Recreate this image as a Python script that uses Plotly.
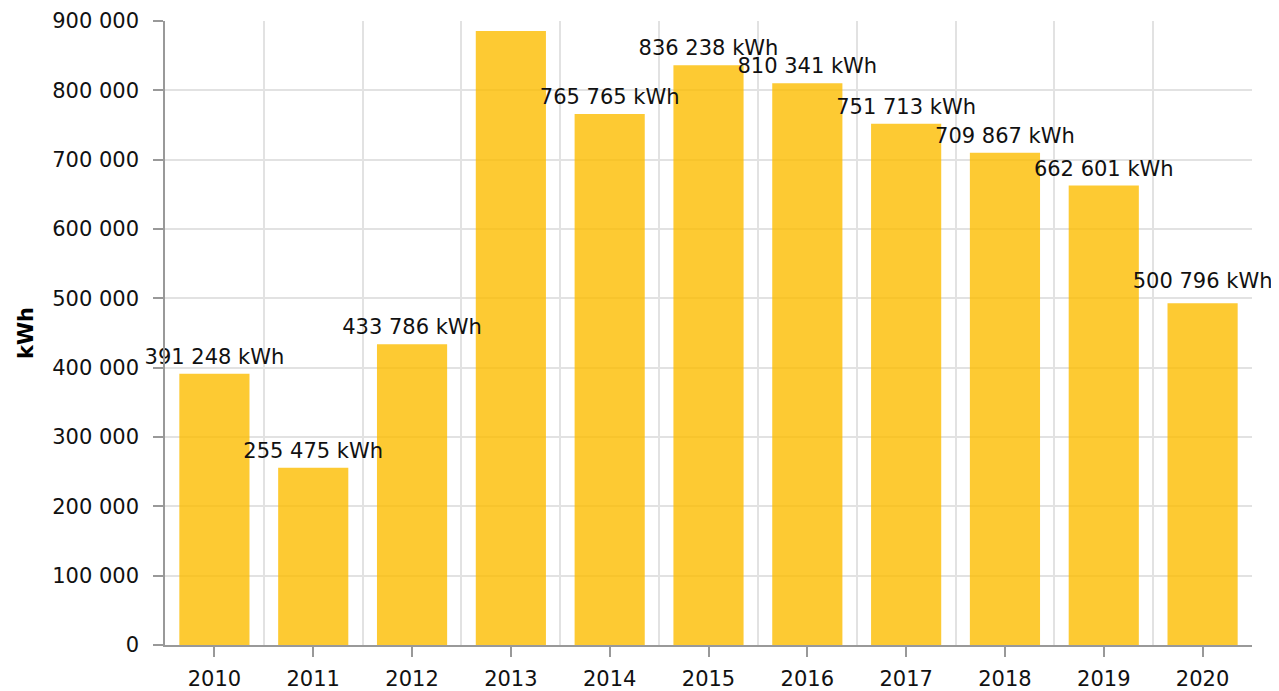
import plotly.graph_objects as go

years = ["2010", "2011", "2012", "2013", "2014", "2015", "2016", "2017", "2018", "2019", "2020"]
bar_values = [391248, 255475, 433786, 885500, 765765, 836238, 810341, 751713, 709867, 662601, 493000]
label_years = ["2010", "2011", "2012", "2014", "2015", "2016", "2017", "2018", "2019", "2020"]
label_values = [391248, 255475, 433786, 765765, 836238, 810341, 751713, 709867, 662601, 500796]
y_ticks = [0, 100000, 200000, 300000, 400000, 500000, 600000, 700000, 800000, 900000]

def fmt(v):
    return f"{v:,}".replace(",", " ")

xpos = list(range(len(years)))
label_x = [years.index(y) for y in label_years]

fig = go.Figure()
fig.add_trace(go.Bar(
    x=xpos, y=bar_values, width=0.71,
    marker=dict(color="rgba(252,189,0,0.8)", line=dict(width=0)),
    hoverinfo="skip", showlegend=False,
))
fig.add_trace(go.Scatter(
    x=label_x, y=label_values, mode="markers+text",
    marker=dict(size=6, color="rgba(0,0,0,0)"),
    text=[fmt(v) + " kWh" for v in label_values],
    textposition="top center",
    textfont=dict(size=21, color="#111"),
    cliponaxis=False, showlegend=False, hoverinfo="skip",
))

font = "DejaVu Sans, Verdana, sans-serif"
fig.update_layout(
    width=1271, height=683,
    margin=dict(l=157, r=27, t=13, b=46),
    paper_bgcolor="white", plot_bgcolor="white",
    font=dict(family=font, size=21, color="#111"),
    xaxis=dict(
        range=[-0.5, 10.5], tickmode="array", tickvals=xpos, ticktext=years,
        showgrid=False, zeroline=False, automargin=False,
        showline=True, linecolor="#999", linewidth=1.5,
        ticks="outside", ticklen=10, tickcolor="#999", tickwidth=1.5,
        minor=dict(tickmode="linear", tick0=0.5, dtick=1, showgrid=True,
                   gridcolor="#e2e2e2", gridwidth=1.5, ticks=""),
        ticklabelstandoff=4,
    ),
    yaxis=dict(
        range=[0, 900000], tickmode="array", tickvals=y_ticks,
        ticktext=[fmt(v) for v in y_ticks],
        showgrid=True, gridcolor="#e2e2e2", gridwidth=1.5,
        zeroline=False, showline=True, linecolor="#999", linewidth=1.5,
        ticks="outside", ticklen=10, tickcolor="#999", tickwidth=1.5,
        ticklabelstandoff=10, automargin=False,
        title=dict(text="<b>kWh</b>", standoff=13, font=dict(size=21, color="#000")),
    ),
)

fig.write_html("out.html")
